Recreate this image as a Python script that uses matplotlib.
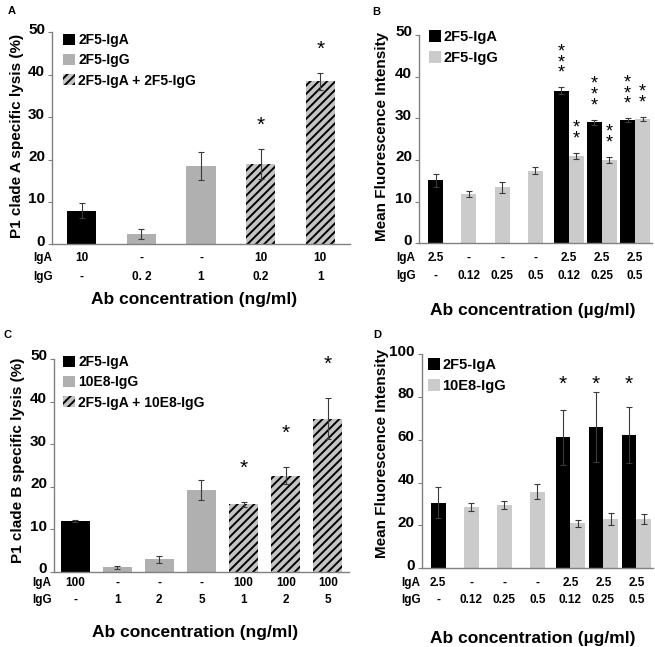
import numpy as np
import matplotlib
matplotlib.use('Agg')
import matplotlib.pyplot as plt
import matplotlib.transforms as mtrans
from matplotlib.patches import Patch

plt.rcParams['font.family'] = ['Liberation Sans', 'DejaVu Sans']
plt.rcParams['font.weight'] = 'bold'
plt.rcParams['hatch.linewidth'] = 1.4

nan = np.nan

# ---- panel A: P1 clade A lysis
a_iga_lab = ['10', '-', '-', '10', '10']
a_igg_lab = ['-', '0. 2', '1', '0.2', '1']
a_vals = [7.9, 2.4, 18.5, 18.9, 38.4]
a_errs = [1.8, 1.2, 3.3, 3.5, 1.9]
a_kind = ['iga', 'igg', 'igg', 'mix', 'mix']
a_stars = ['', '', '', '*', '*']
a_legend = ['2F5-IgA', '2F5-IgG', '2F5-IgA + 2F5-IgG']

# ---- panel B: MFI, 2F5-IgA / 2F5-IgG
b_iga_lab = ['2.5', '-', '-', '-', '2.5', '2.5', '2.5']
b_igg_lab = ['-', '0.12', '0.25', '0.5', '0.12', '0.25', '0.5']
b_iga = [15.1, nan, nan, nan, 36.6, 29.0, 29.6]
b_iga_err = [1.5, nan, nan, nan, 0.8, 0.6, 0.4]
b_igg = [nan, 11.8, 13.4, 17.4, 21.0, 20.0, 29.9]
b_igg_err = [nan, 0.7, 1.3, 0.8, 0.7, 0.7, 0.5]
b_iga_stars = ['', '', '', '', '***', '***', '***']
b_igg_stars = ['', '', '', '', '**', '**', '**']
b_legend = ['2F5-IgA', '2F5-IgG']

# ---- panel C: P1 clade B lysis
c_iga_lab = ['100', '-', '-', '-', '100', '100', '100']
c_igg_lab = ['-', '1', '2', '5', '1', '2', '5']
c_vals = [12.0, 1.0, 2.9, 19.2, 15.9, 22.6, 36.0]
c_errs = [0.2, 0.4, 0.8, 2.3, 0.6, 2.1, 4.8]
c_kind = ['iga', 'igg', 'igg', 'igg', 'mix', 'mix', 'mix']
c_stars = ['', '', '', '', '*', '*', '*']
c_legend = ['2F5-IgA', '10E8-IgG', '2F5-IgA + 10E8-IgG']

# ---- panel D: MFI, 2F5-IgA / 10E8-IgG
d_iga_lab = ['2.5', '-', '-', '-', '2.5', '2.5', '2.5']
d_igg_lab = ['-', '0.12', '0.25', '0.5', '0.12', '0.25', '0.5']
d_iga = [30.7, nan, nan, nan, 61.1, 65.9, 62.1]
d_iga_err = [7.2, nan, nan, nan, 12.9, 16.5, 13.0]
d_igg = [nan, 28.7, 29.6, 35.8, 21.0, 22.9, 22.9]
d_igg_err = [nan, 1.8, 1.9, 3.5, 1.6, 2.8, 2.3]
d_iga_stars = ['', '', '', '', '*', '*', '*']
d_legend = ['2F5-IgA', '10E8-IgG']

W, H = 655, 647
fig = plt.figure(figsize=(W / 100, H / 100), dpi=100)


def box(l, r, t, b):
    return [l / W, 1 - b / H, (r - l) / W, (b - t) / H]


def ftext(x, y, s, **kw):
    fig.text(x / W, 1 - y / H, s, **kw)


BLACK = '#000000'
GRAY_AC = '#b0b0b0'
GRAY_BD = '#cbcbcb'
HATCH_BG = '#c4c4c4'
ERR = dict(ecolor='#3a3a3a', elinewidth=0.8, capsize=2, capthick=0.8)
TABLE_FS = 8.5


def style_axes(ax, ymax, step):
    ax.set_ylim(0, ymax)
    ax.set_yticks(np.arange(0, ymax + 1, step))
    for s in ['top', 'right']:
        ax.spines[s].set_visible(False)
    for s in ['left', 'bottom']:
        ax.spines[s].set_color('#808080')
        ax.spines[s].set_linewidth(1.0)
    ax.tick_params(axis='y', length=3, width=0.8, color='#808080',
                   labelsize=11, pad=2)
    ax.tick_params(axis='x', length=0, labelbottom=False)
    shift = mtrans.ScaledTranslation(0, 4 / 100, fig.dpi_scale_trans)
    for t in ax.get_yticklabels():
        t.set_fontweight('bold')
        t.set_transform(t.get_transform() + shift)


def table_rows(ax, iga_lab, igg_lab, y1, y2, xlab):
    tr = mtrans.blended_transform_factory(ax.transData, fig.transFigure)
    for i, (a, g) in enumerate(zip(iga_lab, igg_lab)):
        ax.text(i, 1 - y1 / H, a, transform=tr, ha='center', va='center',
                fontsize=TABLE_FS, fontweight='bold')
        ax.text(i, 1 - y2 / H, g, transform=tr, ha='center', va='center',
                fontsize=TABLE_FS, fontweight='bold')
    ftext(xlab, y1, 'IgA', ha='center', va='center', fontsize=TABLE_FS, fontweight='bold')
    ftext(xlab, y2, 'IgG', ha='center', va='center', fontsize=TABLE_FS, fontweight='bold')


def single_panel(rect, vals, errs, kind, stars, star_off, width):
    ax = fig.add_axes(rect)
    x = np.arange(len(vals))
    colors = {'iga': BLACK, 'igg': GRAY_AC, 'mix': HATCH_BG}
    for i, (v, e, k) in enumerate(zip(vals, errs, kind)):
        ax.bar(x[i], v, width=width, color=colors[k], linewidth=0,
               edgecolor='black', hatch='////' if k == 'mix' else None)
        ax.errorbar(x[i], v, yerr=e, fmt='none', **ERR)
        if stars[i]:
            ax.annotate(stars[i], xy=(x[i], v + e), xytext=(0, star_off),
                        textcoords='offset points', ha='center', va='center',
                        fontsize=15, fontweight='normal')
    ax.set_xlim(-0.5, len(vals) - 0.5)
    handles = [Patch(facecolor=BLACK, linewidth=0),
               Patch(facecolor=GRAY_AC, linewidth=0),
               Patch(facecolor=HATCH_BG, edgecolor='black', linewidth=0, hatch='////')]
    return ax, handles


def pair_panel(rect, iga, iga_err, igg, igg_err, width):
    ax = fig.add_axes(rect)
    out = []
    for i in range(len(iga)):
        both = not np.isnan(iga[i]) and not np.isnan(igg[i])
        xa = i - width / 2 if both else i
        xg = i + width / 2 if both else i
        if not np.isnan(iga[i]):
            ax.bar(xa, iga[i], width=width, color=BLACK, linewidth=0)
            ax.errorbar(xa, iga[i], yerr=iga_err[i], fmt='none', **ERR)
        if not np.isnan(igg[i]):
            ax.bar(xg, igg[i], width=width, color=GRAY_BD, linewidth=0)
            ax.errorbar(xg, igg[i], yerr=igg_err[i], fmt='none', **ERR)
        out.append((xa, xg))
    ax.set_xlim(-0.5, len(iga) - 0.5)
    handles = [Patch(facecolor=BLACK, linewidth=0),
               Patch(facecolor=GRAY_BD, linewidth=0)]
    return ax, handles, out


def add_legend(ax, handles, labels, x, y, spacing, size, hpad):
    ax.legend(handles, labels, loc='upper left', bbox_to_anchor=(x / W, 1 - y / H),
              bbox_transform=fig.transFigure, frameon=False, borderpad=0,
              borderaxespad=0, handlelength=0.85, handleheight=0.85,
              handletextpad=hpad, labelspacing=spacing,
              prop={'weight': 'bold', 'size': size})


def stack_stars(ax, x, top, s):
    ax.annotate('\n'.join(s), xy=(x, top), xytext=(0, 4), textcoords='offset points',
                ha='center', va='bottom', fontsize=13, fontweight='normal',
                linespacing=0.52)


# ---------- A
axA, hA = single_panel(box(52, 350, 32.3, 244.3), a_vals, a_errs, a_kind,
                       a_stars, 17, 0.49)
style_axes(axA, 50, 10)
add_legend(axA, hA, a_legend, 63, 33, 0.45, 10, 0.25)
table_rows(axA, a_iga_lab, a_igg_lab, 258, 277, 43)
ftext(194, 300, 'Ab concentration (ng/ml)', ha='center', va='center', fontsize=12.5, fontweight='bold')
ftext(17, 136, 'P1 clade A specific lysis (%)', ha='center', va='center',
      rotation=90, fontsize=11, fontweight='bold')
ftext(12, 11, 'A', ha='center', va='center', fontsize=8, fontweight='bold')

# ---------- B
axB, hB, posB = pair_panel(box(419, 651.7, 35, 243.3), b_iga, b_iga_err,
                           b_igg, b_igg_err, 0.45)
style_axes(axB, 50, 10)
for i, (xa, xg) in enumerate(posB):
    if b_iga_stars[i]:
        stack_stars(axB, xa, b_iga[i] + b_iga_err[i], b_iga_stars[i])
    if b_igg_stars[i]:
        stack_stars(axB, xg, b_igg[i] + b_igg_err[i], b_igg_stars[i])
add_legend(axB, hB, b_legend, 429, 30, 0.5, 10.5, 0.15)
table_rows(axB, b_iga_lab, b_igg_lab, 258, 276, 406)
ftext(533, 310, 'Ab concentration (\u00b5g/ml)', ha='center', va='center', fontsize=12.5, fontweight='bold')
ftext(382, 136, 'Mean Fluorescence Intensity', ha='center', va='center',
      rotation=90, fontsize=11, fontweight='bold')
ftext(376, 12, 'B', ha='center', va='center', fontsize=8, fontweight='bold')

# ---------- C
axC, hC = single_panel(box(54, 349, 359, 571.7), c_vals, c_errs, c_kind,
                       c_stars, 24, 0.69)
style_axes(axC, 50, 10)
add_legend(axC, hC, c_legend, 63, 355, 0.45, 10, 0.25)
table_rows(axC, c_iga_lab, c_igg_lab, 583, 600, 42)
ftext(195, 632, 'Ab concentration (ng/ml)', ha='center', va='center', fontsize=12.5, fontweight='bold')
ftext(18, 460, 'P1 clade B specific lysis (%)', ha='center', va='center',
      rotation=90, fontsize=11, fontweight='bold')
ftext(8, 335, 'C', ha='center', va='center', fontsize=8, fontweight='bold')

# ---------- D
axD, hD, posD = pair_panel(box(421.7, 653, 354, 568.3), d_iga, d_iga_err,
                           d_igg, d_igg_err, 0.45)
style_axes(axD, 100, 20)
for i, (xa, xg) in enumerate(posD):
    if d_iga_stars[i]:
        axD.text(xa, 86, d_iga_stars[i], ha='center', va='center',
                 fontsize=15, fontweight='normal')
add_legend(axD, hD, d_legend, 428, 358, 0.5, 10.5, 0.15)
table_rows(axD, d_iga_lab, d_igg_lab, 583, 600, 411)
ftext(533, 639, 'Ab concentration (\u00b5g/ml)', ha='center', va='center', fontsize=12.5, fontweight='bold')
ftext(382, 453, 'Mean Fluorescence Intensity', ha='center', va='center',
      rotation=90, fontsize=11, fontweight='bold')
ftext(377, 335, 'D', ha='center', va='center', fontsize=8, fontweight='bold')

fig.savefig('out.png', dpi=100)
